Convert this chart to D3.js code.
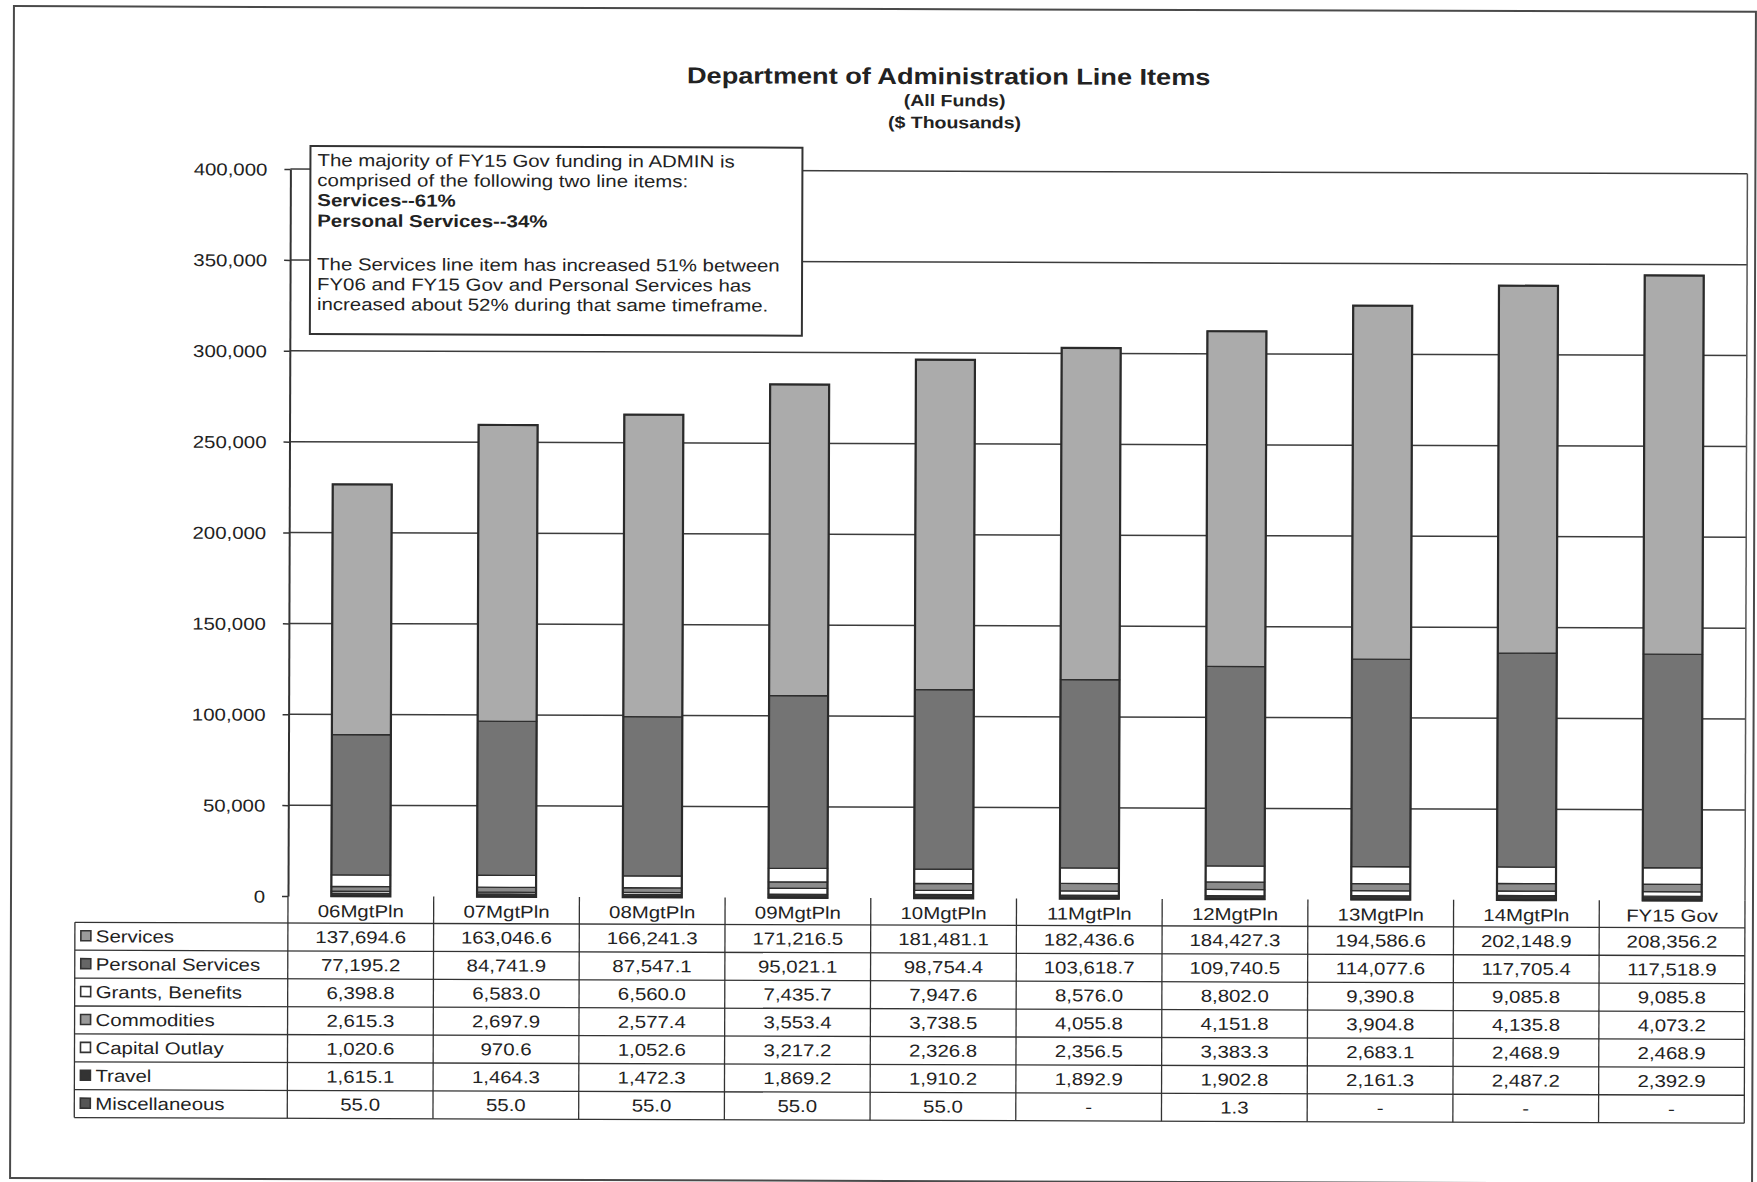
<!DOCTYPE html>
<html>
<head>
<meta charset="utf-8">
<script src="https://cdn.jsdelivr.net/npm/d3@7"></script>
<style>
  html, body { margin: 0; padding: 0; background: #fff; }
  svg { display: block; }
  text { font-family: Arial, "Liberation Sans", sans-serif; fill: #222; }
</style>
</head>
<body>
<svg id="chart" width="1757" height="1182"></svg>
<script>
// ---------- data ----------
const categories = ["06MgtPln","07MgtPln","08MgtPln","09MgtPln","10MgtPln","11MgtPln","12MgtPln","13MgtPln","14MgtPln","FY15 Gov"];
const seriesNames = ["Services","Personal Services","Grants, Benefits","Commodities","Capital Outlay","Travel","Miscellaneous"];
const services         = [137694.6,163046.6,166241.3,171216.5,181481.1,182436.6,184427.3,194586.6,202148.9,208356.2];
const personalServices = [77195.2,84741.9,87547.1,95021.1,98754.4,103618.7,109740.5,114077.6,117705.4,117518.9];
const grantsBenefits   = [6398.8,6583.0,6560.0,7435.7,7947.6,8576.0,8802.0,9390.8,9085.8,9085.8];
const commodities      = [2615.3,2697.9,2577.4,3553.4,3738.5,4055.8,4151.8,3904.8,4135.8,4073.2];
const capitalOutlay    = [1020.6,970.6,1052.6,3217.2,2326.8,2356.5,3383.3,2683.1,2468.9,2468.9];
const travel           = [1615.1,1464.3,1472.3,1869.2,1910.2,1892.9,1902.8,2161.3,2487.2,2392.9];
const miscellaneous    = [55.0,55.0,55.0,55.0,55.0,null,1.3,null,null,null];
const yTicks = [0,50000,100000,150000,200000,250000,300000,350000,400000];
const titleLines = ["Department of Administration Line Items","(All Funds)","($ Thousands)"];
const noteLines = [
  {t:"The majority of FY15 Gov funding in ADMIN is", b:false},
  {t:"comprised of the following two line items:", b:false},
  {t:"Services--61%", b:true},
  {t:"Personal Services--34%", b:true},
  {t:"", b:false},
  {t:"The Services line item has increased 51% between", b:false},
  {t:"FY06 and FY15 Gov and Personal Services has", b:false},
  {t:"increased about 52% during that same timeframe.", b:false}
];

// ---------- styles ----------
const seriesValues = [services, personalServices, grantsBenefits, commodities, capitalOutlay, travel, miscellaneous];
const fills = ["#ababab","#747474","#ffffff","#8c8c8c","#ffffff","#333333","#4a4a4a"];
const keyFills = ["#9a9a9a","#666666","#ffffff","#9a9a9a","#ffffff","#333333","#555555"];
const SX = 1.18;          // horizontal stretch of the scanned lettering
const FS = 17.3;          // general text size

const root = d3.select("#chart");
// the scanned page is very slightly rotated
const svg = root.append("g").attr("transform", "rotate(0.19, 288, 896)");

function txt(parent, x, y, str, o = {}) {
  return parent.append("text")
    .attr("transform", `translate(${x},${y}) scale(${SX},1)`)
    .attr("text-anchor", o.anchor || "start")
    .attr("font-size", o.size || FS)
    .attr("font-weight", o.bold ? "bold" : "normal")
    .text(str);
}

// outer frame
svg.append("rect").attr("x", 11).attr("y", 7).attr("width", 1742).attr("height", 1172)
  .attr("fill", "none").attr("stroke", "#4a4a4a").attr("stroke-width", 2);

// ---------- scales ----------
const plot = {left: 288, right: 1745, top: 169, bottom: 896};
const x = d3.scaleBand().domain(categories).range([plot.left, plot.right])
  .paddingInner(0.595).paddingOuter(0.2975);
const y = d3.scaleLinear().domain([0, 400000]).range([plot.bottom, plot.top]);

// title
txt(svg, 946, 82, titleLines[0], {anchor: "middle", size: 23, bold: true});
txt(svg, 952, 104, titleLines[1], {anchor: "middle", size: 16.5, bold: true});
txt(svg, 952, 126, titleLines[2], {anchor: "middle", size: 16.5, bold: true});

// gridlines
svg.append("g").selectAll("line").data(yTicks.filter(d => d > 0)).join("line")
  .attr("x1", plot.left).attr("x2", plot.right)
  .attr("y1", d => y(d)).attr("y2", d => y(d))
  .attr("stroke", "#3c3c3c").attr("stroke-width", 1.5);
// right border of plot area
svg.append("line").attr("x1", plot.right).attr("x2", plot.right)
  .attr("y1", plot.top).attr("y2", plot.bottom)
  .attr("stroke", "#555").attr("stroke-width", 1.5);

// ---------- stacked bars ----------
const rows = categories.map((c, i) => {
  const r = {cat: c};
  seriesNames.forEach((s, k) => r[s] = seriesValues[k][i] || 0);
  return r;
});
const stackOrder = seriesNames.slice().reverse(); // Misc at bottom ... Services on top
const stacked = d3.stack().keys(stackOrder)(rows);
const barG = svg.append("g");
stacked.forEach(layer => {
  const k = seriesNames.indexOf(layer.key);
  barG.append("g").selectAll("rect").data(layer).join("rect")
    .attr("x", d => x(d.data.cat))
    .attr("width", x.bandwidth())
    .attr("y", d => y(d[1]))
    .attr("height", d => Math.max(0, y(d[0]) - y(d[1])))
    .attr("fill", fills[k])
    .attr("stroke", "#2e2e2e")
    .attr("stroke-width", 1.3);
});
// bar outlines
barG.append("g").selectAll("rect").data(rows).join("rect")
  .attr("x", d => x(d.cat))
  .attr("width", x.bandwidth())
  .attr("y", d => y(d3.sum(seriesNames, s => d[s])))
  .attr("height", d => y(0) - y(d3.sum(seriesNames, s => d[s])))
  .attr("fill", "none").attr("stroke", "#2a2a2a").attr("stroke-width", 2.2);

// ---------- y axis ----------
const yAxis = svg.append("g").attr("transform", `translate(${plot.left},0)`)
  .call(d3.axisLeft(y).tickValues(yTicks).tickFormat(d3.format(",")).tickSize(6).tickSizeOuter(0));
yAxis.select(".domain").attr("stroke", "#333").attr("stroke-width", 2);
yAxis.selectAll(".tick line").attr("stroke", "#333").attr("stroke-width", 1.5);
yAxis.selectAll(".tick text")
  .attr("x", null).attr("dy", "0.35em")
  .attr("transform", `translate(-23,0) scale(${SX},1)`)
  .attr("font-size", FS).attr("font-family", "Arial, 'Liberation Sans', sans-serif")
  .attr("fill", "#222");

// ---------- annotation box ----------
const note = svg.append("g");
note.append("rect").attr("x", 308).attr("y", 146).attr("width", 492).attr("height", 188)
  .attr("fill", "#fff").attr("stroke", "#333").attr("stroke-width", 2);
const noteY = [166, 186, 206, 226.5, 0, 270, 290, 310];
noteLines.forEach((l, i) => { if (l.t) txt(note, 315, noteY[i], l.t, {size: 17.3, bold: l.b}); });

// ---------- data table ----------
const tbl = svg.append("g");
const rowH = 27.9, headTop = plot.bottom, headBot = 923, tblLeft = 75, tblBot = headBot + rowH * 7;
const colEdges = categories.map(c => x(c) - x.step() * x.paddingInner() / 2);
colEdges.push(plot.right);
const lineStyle = s => s.attr("stroke", "#333").attr("stroke-width", 1.3);
// vertical lines
colEdges.forEach(cx => tbl.append("line").attr("x1", cx).attr("x2", cx).attr("y1", headTop).attr("y2", tblBot).call(lineStyle));
tbl.append("line").attr("x1", tblLeft).attr("x2", tblLeft).attr("y1", headBot).attr("y2", tblBot).call(lineStyle);
// horizontal lines
for (let r = 0; r <= 7; r++) {
  const yy = headBot + r * rowH;
  tbl.append("line").attr("x1", tblLeft).attr("x2", plot.right).attr("y1", yy).attr("y2", yy).call(lineStyle);
}
// header labels
categories.forEach(c => txt(tbl, x(c) + x.bandwidth() / 2, 917, c, {anchor: "middle"}));
// rows
const fmt = d3.format(",.1f");
seriesNames.forEach((s, k) => {
  const cy = headBot + rowH * k + rowH / 2;
  tbl.append("rect").attr("x", 81).attr("y", cy - 5.5).attr("width", 10).attr("height", 10)
    .attr("fill", keyFills[k]).attr("stroke", "#333").attr("stroke-width", 1.6);
  txt(tbl, 96, cy + 6, s);
  categories.forEach((c, i) => {
    const v = seriesValues[k][i];
    txt(tbl, x(c) + x.bandwidth() / 2, cy + 6, v == null ? "-" : fmt(v), {anchor: "middle"});
  });
});
</script>
</body>
</html>
